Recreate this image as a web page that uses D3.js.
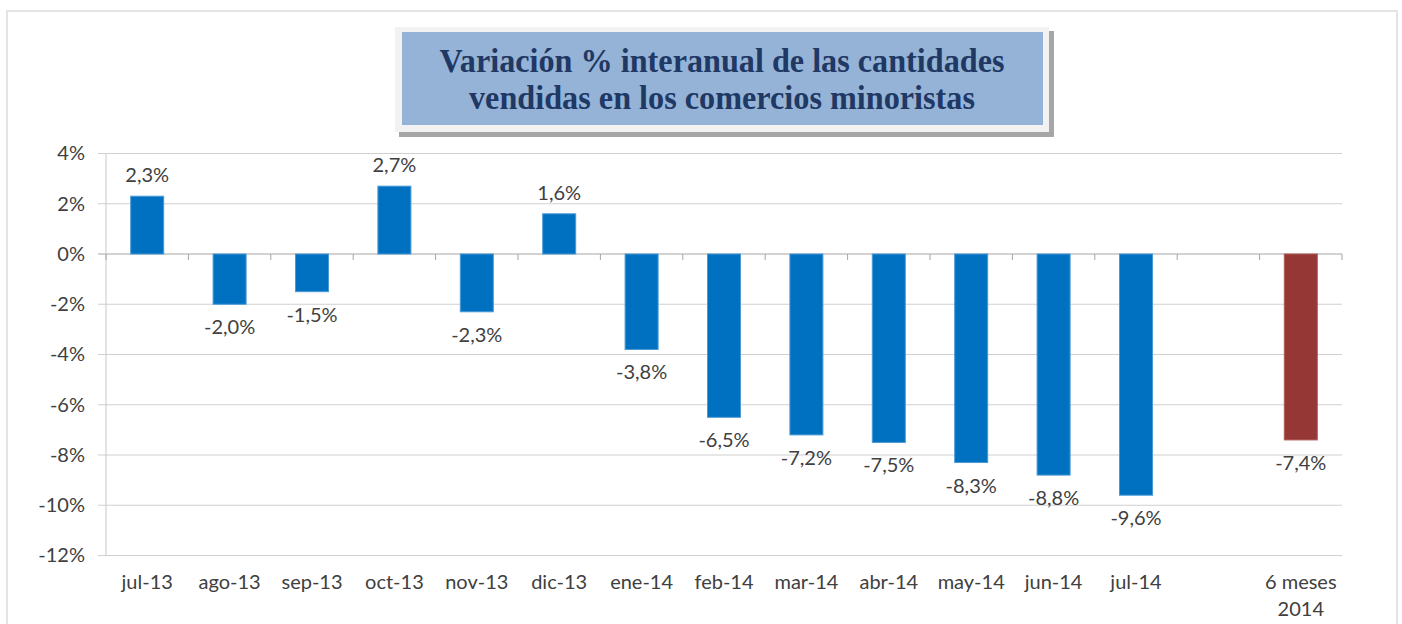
<!DOCTYPE html>
<html>
<head>
<meta charset="utf-8">
<script src="https://cdn.jsdelivr.net/npm/d3@7"></script>
<style>
  body { margin: 0; background: #fff; }
  svg text { font-family: Lato, "Open Sans", sans-serif; }
  .axis path { display: none; }
  .axis text { fill: #404040; font-size: 20px; font-family: Lato, sans-serif; }
</style>
</head>
<body>
<svg id="svg" width="1402" height="624"></svg>
<script>
const SVG = d3.select("#svg"),
  W = 1236,
  H = 402;

// data
const categories = ["jul-13", "ago-13", "sep-13", "oct-13", "nov-13", "dic-13", "ene-14",
  "feb-14", "mar-14", "abr-14", "may-14", "jun-14", "jul-14", "", "6 meses|2014"];
const values = [2.3, -2.0, -1.5, 2.7, -2.3, 1.6, -3.8, -6.5, -7.2, -7.5, -8.3, -8.8, -9.6, null, -7.4];
const labels = ["2,3%", "-2,0%", "-1,5%", "2,7%", "-2,3%", "1,6%", "-3,8%", "-6,5%", "-7,2%",
  "-7,5%", "-8,3%", "-8,8%", "-9,6%", "", "-7,4%"];
const yTicks = [4, 2, 0, -2, -4, -6, -8, -10, -12];
const titleLines = ["Variación % interanual de las cantidades", "vendidas en los comercios minoristas"];
const titleWidths = [565, 506];

// outer frame
SVG.append("rect")
  .attr("x", 7).attr("y", 11)
  .attr("width", 1390).attr("height", 640)
  .attr("fill", "none")
  .attr("stroke", "#e4e4e4")
  .attr("stroke-width", 2);

// title box
var tb = SVG.append("g");
tb.append("rect").attr("x", 399).attr("y", 31).attr("width", 655).attr("height", 106).attr("fill", "#a6a6a6");
tb.append("rect").attr("x", 395).attr("y", 27).attr("width", 654).attr("height", 105).attr("fill", "#f2f2f2");
tb.append("rect").attr("x", 402).attr("y", 32).attr("width", 641).attr("height", 93).attr("fill", "#95b3d7");
tb.selectAll("text.title")
  .data(titleLines)
  .join("text")
  .attr("class", "title")
  .attr("x", 722)
  .attr("y", (d, i) => 72 + i * 37)
  .attr("text-anchor", "middle")
  .attr("textLength", (d, i) => titleWidths[i])
  .attr("lengthAdjust", "spacingAndGlyphs")
  .style("font-family", "'Liberation Serif', 'Times New Roman', serif")
  .style("font-weight", "bold")
  .style("font-size", "33px")
  .attr("fill", "#1f3864")
  .text(d => d);

var g = SVG.append("g").attr("transform", "translate(106, 153.5)");

var xb = d3.scaleBand().domain(d3.range(categories.length)).range([0, W]),
  y = d3.scaleLinear().domain([-12, 4]).range([H, 0]);

// gridlines
g.append("g")
  .selectAll("line")
  .data(yTicks)
  .join("line")
  .attr("x1", -8).attr("x2", W)
  .attr("y1", d => y(d)).attr("y2", d => y(d))
  .attr("stroke", d => d === 0 ? "#a6a6a6" : "#d0d0d0")
  .attr("stroke-width", 1.2);

// y axis
g.append("g")
  .attr("class", "axis")
  .call(d3.axisLeft(y).tickValues(yTicks).tickSize(0).tickPadding(21).tickFormat(d => d + "%"));
g.append("line")
  .attr("x1", 0).attr("x2", 0)
  .attr("y1", 0).attr("y2", H)
  .attr("stroke", "#c8c8c8");

// ticks on zero line
g.append("g")
  .selectAll("line")
  .data(d3.range(categories.length + 1))
  .join("line")
  .attr("x1", d => d * xb.step()).attr("x2", d => d * xb.step())
  .attr("y1", y(0)).attr("y2", y(0) + 6)
  .attr("stroke", "#a6a6a6");

// bars
var bw = 33;
var pts = values.map((v, i) => ({ v: v, i: i })).filter(d => d.v !== null);
g.append("g")
  .selectAll("rect")
  .data(pts)
  .join("rect")
  .attr("x", d => xb(d.i) + xb.bandwidth() / 2 - bw / 2)
  .attr("width", bw)
  .attr("y", d => y(Math.max(0, d.v)))
  .attr("height", d => Math.abs(y(d.v) - y(0)))
  .attr("fill", d => d.i === categories.length - 1 ? "#953735" : "#0070c0")
  .attr("stroke", d => d.i === categories.length - 1 ? "#b05a58" : "#4a9ad6")
  .attr("stroke-width", 1);

// value labels
g.append("g")
  .selectAll("text")
  .data(pts)
  .join("text")
  .attr("x", d => xb(d.i) + xb.bandwidth() / 2)
  .attr("y", d => d.v >= 0 ? y(d.v) - 14 : y(d.v) + 30)
  .attr("text-anchor", "middle")
  .attr("fill", "#404040")
  .style("font-size", "20px")
  .text(d => labels[d.i]);

// category labels
g.append("g")
  .selectAll("text")
  .data(categories)
  .join("text")
  .attr("x", (d, i) => xb(i) + xb.bandwidth() / 2)
  .attr("y", H + 33)
  .attr("text-anchor", "middle")
  .attr("fill", "#404040")
  .style("font-size", "20px")
  .selectAll("tspan")
  .data(d => d.split("|"))
  .join("tspan")
  .attr("x", function () { return d3.select(this.parentNode).attr("x"); })
  .attr("dy", (d, i) => i === 0 ? 0 : 27)
  .text(d => d);
</script>
</body>
</html>
